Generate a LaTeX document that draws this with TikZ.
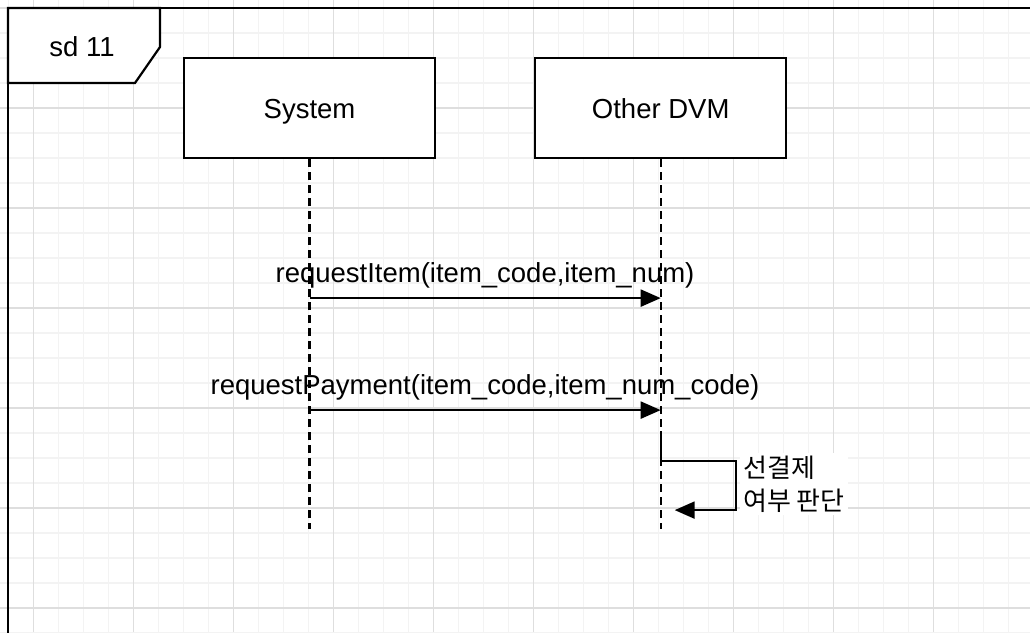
\documentclass[tikz,border=0pt]{standalone}
\usepackage{fontspec}
\setmainfont{Liberation Sans}
\newfontfamily\krfont{Noto Sans CJK KR}
\usetikzlibrary{arrows.meta,positioning}

\definecolor{gridminor}{HTML}{F3F3F3}
\definecolor{gridmajor}{HTML}{DEDEDE}

\tikzset{
	lifebox/.style={draw, line width=2.2pt, fill=white, minimum width=251pt, minimum height=100pt, inner sep=0pt, text height=25pt, text depth=5pt},
	lifeline/.style={line width=2.2pt, dash pattern=on 8pt off 5pt},
	msg/.style={line width=2.2pt, -{Triangle[length=20pt,width=17pt]}},
	msglabel/.style={inner sep=0pt},
}

\begin{document}
\begin{tikzpicture}[x=1pt, y=-1pt, font=\fontsize{27.5}{33}\selectfont]
	\useasboundingbox (0,0) rectangle (1030,632);

	%grid
	\foreach \k in {0,...,41}
		\draw [gridminor, line width=1.5pt] ({8.3+25*\k}, 0) -- ++(0, 632);
	\foreach \k in {0,...,25}
		\draw [gridminor, line width=1.5pt] (0, {8+25*\k}) -- ++(1030, 0);
	\foreach \k in {0,...,10}
		\draw [gridmajor, line width=1.5pt] ({33.3+100*\k}, 0) -- ++(0, 632);
	\foreach \k in {0,...,6}
		\draw [gridmajor, line width=1.5pt] (0, {8+100*\k}) -- ++(1030, 0);

	%frame
	\draw [line width=2.2pt] (8, 640) -- (8, 8) -- (1040, 8);
	\draw [line width=2.2pt, fill=white] (8, 8) -- (160, 8) -- (160, 47) -- (135, 83) -- (8, 83) -- cycle;
	\node (tab) at (82, 47) {sd 11};

	%nodes
	\node [lifebox] (sys) at (309.5, 108) {System};
	\node [lifebox, right=98pt of sys] (dvm) {Other DVM};

	%lifelines
	\path (sys.south) ++(0, 370) coordinate (sysend);
	\path (dvm.south) ++(0, 370) coordinate (dvmend);
	\draw [lifeline] (sys.south) -- (sysend);
	\draw [lifeline] (dvm.south) -- (dvmend);

	%messages
	\path (sys.south) ++(0, 139) coordinate (m1s);
	\path (dvm.south) ++(0, 139) coordinate (m1e);
	\path (sys.south) ++(0, 251) coordinate (m2s);
	\path (dvm.south) ++(0, 251) coordinate (m2e);
	\draw [msg] (m1s) -- (m1e);
	\draw [msg] (m2s) -- (m2e);
	\node [msglabel] (l1) at (485, 275) {requestItem(item\_code,item\_num)};
	\node [msglabel] (l2) at (485, 387) {requestPayment(item\_code,item\_num\_code)};

	%self call
	\path (dvm.south) ++(0, 272) coordinate (acts);
	\path (dvm.south) ++(0, 302) coordinate (selfs);
	\path (dvm.south) ++(14, 351) coordinate (selfe);
	\draw [line width=2.2pt] (acts) -- (selfs);
	\draw [msg] (selfs) -- ++(75, 0) |- (selfe);
	\node [fill=white, align=left, anchor=west, inner sep=3pt, font=\krfont\fontsize{26}{33}\selectfont] (note) at (740, 484) {선결제\\여부 판단};

\end{tikzpicture}
\end{document}
